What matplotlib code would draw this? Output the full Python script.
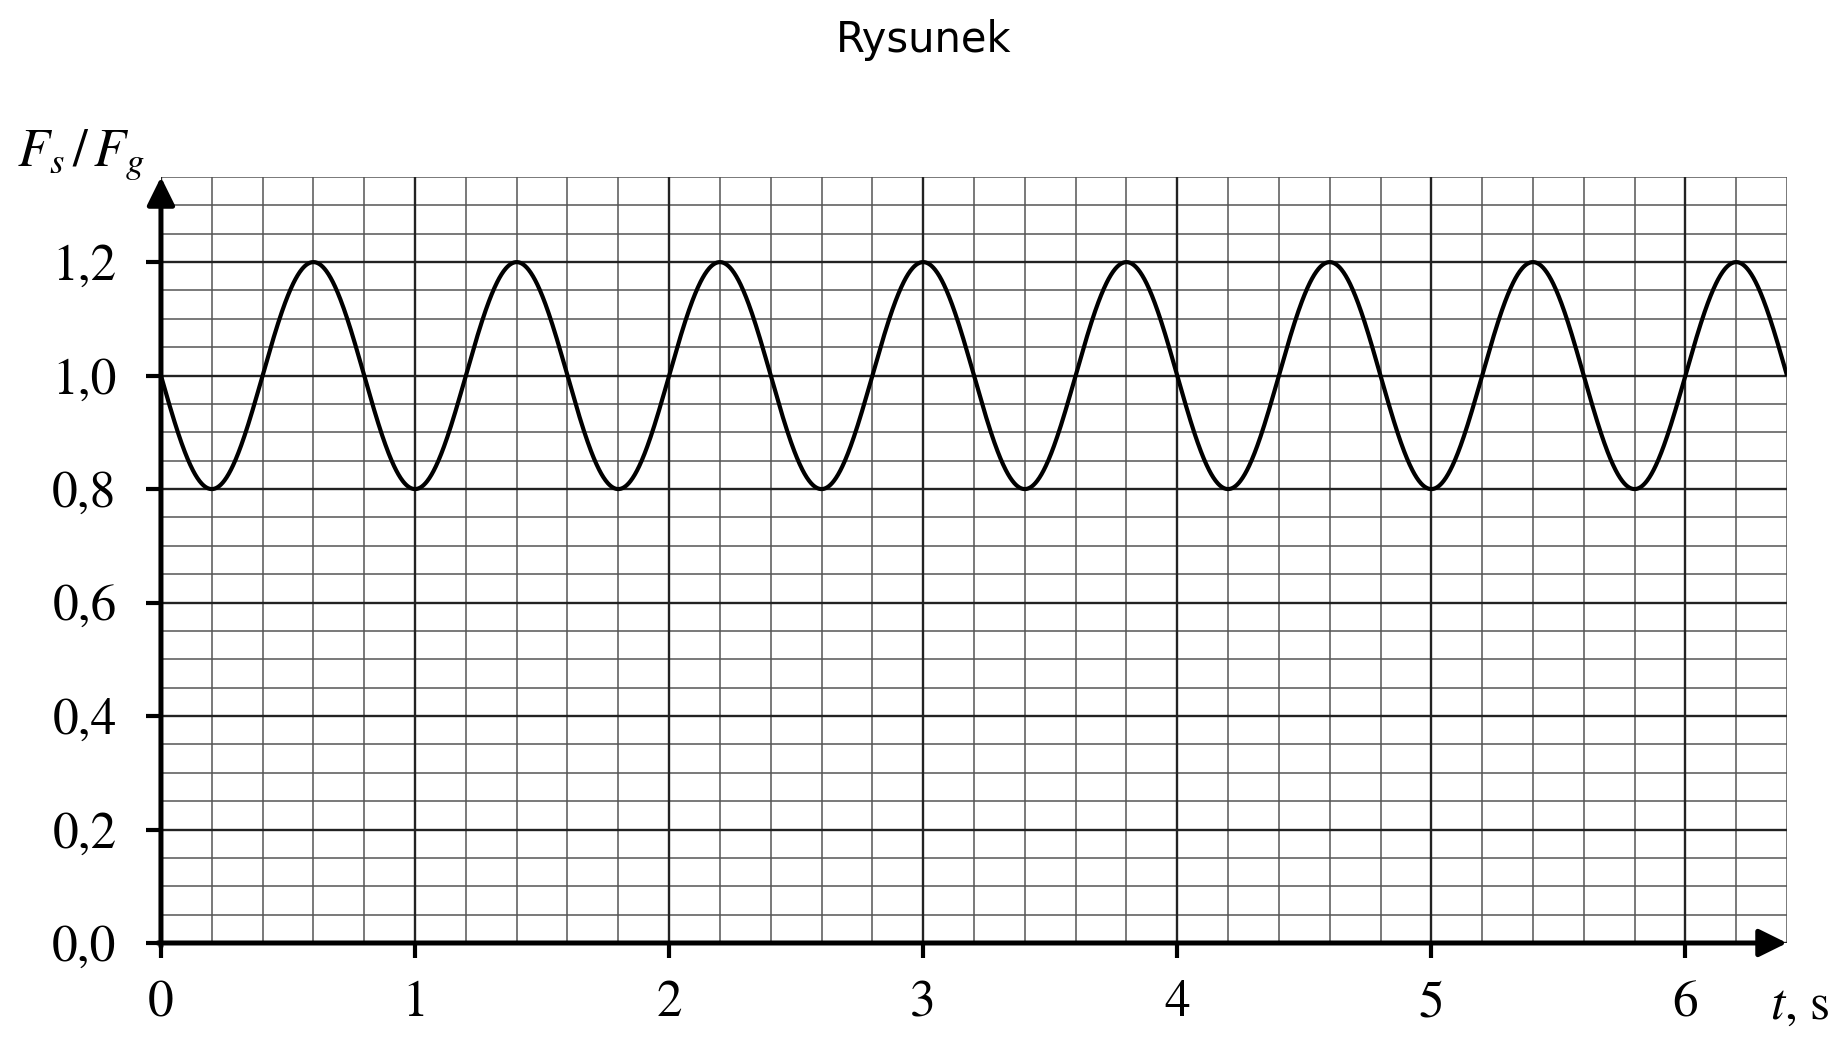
import numpy as np
import matplotlib
matplotlib.use('Agg')
import matplotlib.pyplot as plt

# Dane
t_max = 6.4          # koniec osi czasu [s]
y_max = 1.35         # góra siatki
mean_ratio = 1.0     # wartość średnia Fs/Fg
amplitude = 0.2      # amplituda
period = 0.8         # okres [s]

x_ticks = [0, 1, 2, 3, 4, 5, 6]
x_labels = ['0', '1', '2', '3', '4', '5', '6']
y_ticks = [0.0, 0.2, 0.4, 0.6, 0.8, 1.0, 1.2]
y_labels = ['0,0', '0,2', '0,4', '0,6', '0,8', '1,0', '1,2']

plt.rcParams['mathtext.fontset'] = 'stix'

fig = plt.figure(figsize=(18.48, 10.48), dpi=100)
ax = fig.add_axes([0.0871, 0.1002, 0.8799, 0.7309])

# Siatka
x_minor = np.round(np.arange(0, t_max + 0.01, 0.2), 2)
y_minor = np.round(np.arange(0, y_max + 0.001, 0.05), 2)
for xv in x_minor:
    ax.axvline(xv, color='#555555', lw=1.1, zorder=1)
for yv in y_minor:
    ax.axhline(yv, color='#555555', lw=1.1, zorder=1)
for xv in x_ticks:
    ax.axvline(xv, color='#222222', lw=1.7, zorder=2)
for yv in y_ticks:
    ax.axhline(yv, color='#222222', lw=1.7, zorder=2)

# Wykres
t = np.linspace(0, t_max, 3000)
f = mean_ratio - amplitude * np.sin(2 * np.pi * t / period)
ax.plot(t, f, color='black', lw=3.0, zorder=4, solid_capstyle='butt')

ax.set_xlim(0, t_max)
ax.set_ylim(0, y_max)
for s in ax.spines.values():
    s.set_visible(False)

ax.set_xticks(x_ticks)
ax.set_xticklabels(x_labels, family='STIXGeneral', fontsize=37)
ax.set_yticks(y_ticks)
ax.set_yticklabels(y_labels, family='STIXGeneral', fontsize=37)
ax.tick_params(axis='both', direction='out', length=11, width=3, color='black')
ax.tick_params(axis='x', pad=16)
ax.tick_params(axis='y', pad=21)

# Osie ze strzałkami
arrow = dict(arrowstyle='-|>,head_length=0.85,head_width=0.42', lw=3.6,
             color='black', shrinkA=0, shrinkB=0, mutation_scale=20)
ax.annotate('', xy=(t_max, 0), xytext=(-0.012, 0), arrowprops=arrow,
            annotation_clip=False, zorder=6)
ax.annotate('', xy=(0, y_max), xytext=(0, -0.006), arrowprops=arrow,
            annotation_clip=False, zorder=6)

# Opisy osi
fig.text(0.009, 1 - 155 / 1048, r'$F_s\,/\,F_g$', fontsize=38,
         ha='left', va='center')
fig.text(1770 / 1848, 1 - 1006 / 1048, r'$t$, s', family='STIXGeneral',
         fontsize=37, ha='left', va='center')

fig.text(0.5, 1 - 40 / 1048, 'Rysunek', family='DejaVu Sans', fontsize=30,
         ha='center', va='center')

fig.savefig('out.png', dpi=100)
